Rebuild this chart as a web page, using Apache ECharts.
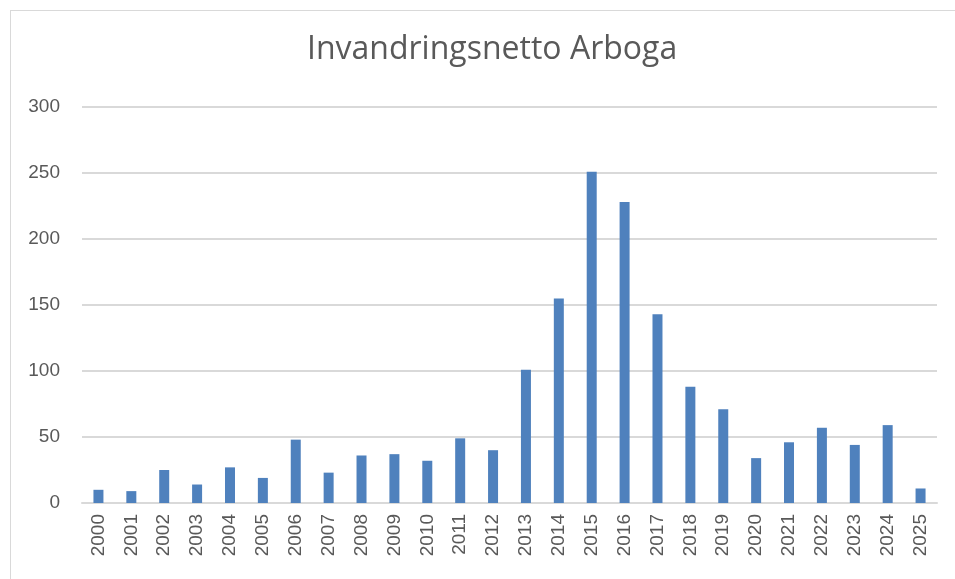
<!DOCTYPE html>
<html>
<head>
<meta charset="utf-8">
<script src="https://cdn.jsdelivr.net/npm/echarts@6/dist/echarts.min.js"></script>
<style>
  html, body { margin: 0; padding: 0; background: #fff; }
  #frame { position: absolute; left: 10px; top: 10px; width: 960px; height: 590px; border: 1px solid #d9d9d9; box-sizing: border-box; }
  #chart { position: absolute; left: 0; top: 0; width: 955px; height: 579px; }
</style>
</head>
<body>
<div id="frame"></div>
<div id="chart"></div>
<script>
// years on the x axis
const years = ['2000', '2001', '2002', '2003', '2004', '2005', '2006', '2007', '2008', '2009',
  '2010', '2011', '2012', '2013', '2014', '2015', '2016', '2017', '2018', '2019',
  '2020', '2021', '2022', '2023', '2024', '2025']
// net immigration per year
const netto = [10, 9, 25, 14, 27, 19, 48, 23, 36, 37,
  32, 49, 40, 101, 155, 251, 228, 143, 88, 71,
  34, 46, 57, 44, 59, 11]
const yTicks = [0, 50, 100, 150, 200, 250, 300]

const chart = echarts.init(document.getElementById('chart'))
chart.setOption({
  animation: false,
  title: {
    text: 'Invandringsnetto Arboga',
    left: 302,
    top: 29,
    textStyle: {
      fontFamily: 'Open Sans',
      fontSize: 32,
      fontWeight: 'normal',
      color: '#595959'
    }
  },
  grid: {
    left: 82,
    right: 18,
    top: 107,
    bottom: 76
  },
  xAxis: {
    type: 'category',
    data: years,
    axisLine: { lineStyle: { color: '#d9d9d9', width: 2 } },
    axisTick: { show: false },
    axisLabel: {
      rotate: 90,
      margin: 11,
      fontFamily: 'Liberation Sans',
      fontSize: 19,
      color: '#595959'
    }
  },
  yAxis: {
    type: 'value',
    min: yTicks[0],
    max: yTicks[yTicks.length - 1],
    interval: 50,
    axisLine: { show: false },
    axisTick: { show: false },
    splitLine: { lineStyle: { color: '#d9d9d9', width: 2 } },
    axisLabel: {
      margin: 22,
      fontFamily: 'Liberation Sans',
      fontSize: 19,
      color: '#595959'
    }
  },
  series: [{
    type: 'bar',
    data: netto,
    barWidth: 10,
    itemStyle: { color: '#4f81bd' }
  }]
})
</script>
</body>
</html>
